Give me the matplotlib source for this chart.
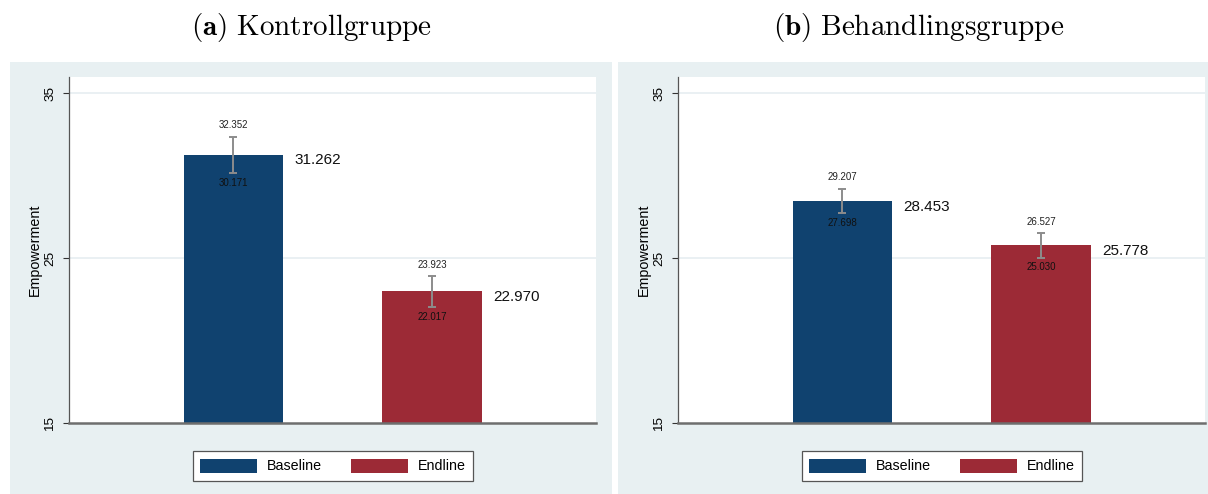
#!/usr/bin/env python3
"""
Empowerment at baseline and endline, control vs. treatment group (Stata-style bars).
"""

import matplotlib
matplotlib.use('Agg')
import matplotlib.pyplot as plt
from matplotlib.patches import Rectangle

plt.rcParams['font.family'] = ['Liberation Sans', 'DejaVu Sans']
plt.rcParams['mathtext.fontset'] = 'cm'

# data
panel_titles = [r'$\mathbf{(a)}\ \mathrm{Kontrollgruppe}$',
                r'$\mathbf{(b)}\ \mathrm{Behandlingsgruppe}$']
series = ['Baseline', 'Endline']
means = [[31.262, 22.970], [28.453, 25.778]]
ci_low = [[30.171, 22.017], [27.698, 25.030]]
ci_high = [[32.352, 23.923], [29.207, 26.527]]
yticks = [15, 25, 35]

W, H = 1208, 494
NAVY = '#10426f'
MAROON = '#9c2a36'
BG = '#e8f0f2'
GRID = '#e6eef1'


def fig_box(x0, y0, x1, y1):
    """Pixel box (top-left origin) -> figure fraction [l, b, w, h]."""
    return [x0 / W, 1 - y1 / H, (x1 - x0) / W, (y1 - y0) / H]


fig = plt.figure(figsize=(W / 100, H / 100), dpi=100)

panels = [
    dict(bg=(10, 62, 612, 494), ax=(69, 77, 596, 423), title_x=311, leg_x=333),
    dict(bg=(618, 62, 1208, 494), ax=(678, 77, 1205, 423), title_x=919, leg_x=942),
]

colors = [NAVY, MAROON]

for k, p in enumerate(panels):
    l, b, w, h = fig_box(*p['bg'])
    fig.patches.append(Rectangle((l, b), w, h, transform=fig.transFigure,
                                 facecolor=BG, edgecolor='none', zorder=-10))
    fig.text(p['title_x'] / W, 1 - 28 / H, panel_titles[k], ha='center', va='center',
             fontsize=21)

    ax = fig.add_axes(fig_box(*p['ax']))
    ax.set_facecolor('white')
    xs = [1, 2]
    handles = []
    for i in range(2):
        bars = ax.bar(xs[i], means[k][i] - 15, bottom=15, width=0.5, color=colors[i],
                      edgecolor='none', zorder=2, label=series[i])
        handles.append(bars)
        lo, hi = ci_low[k][i], ci_high[k][i]
        ax.errorbar(xs[i], means[k][i], yerr=[[means[k][i] - lo], [hi - means[k][i]]],
                    fmt='none', ecolor='#8c8c8c', elinewidth=1.4, capsize=3,
                    capthick=1.4, zorder=3)
        ax.annotate(f'{hi:.3f}', (xs[i], hi), xytext=(0, 4.5), textcoords='offset points',
                    ha='center', va='bottom', fontsize=7, color='#222222')
        ax.annotate(f'{lo:.3f}', (xs[i], lo), xytext=(0, -3.5), textcoords='offset points',
                    ha='center', va='top', fontsize=7, color='#111111', zorder=4)
        ax.annotate(f'{means[k][i]:.3f}', (xs[i] + 0.25, means[k][i]), xytext=(8, -4),
                    textcoords='offset points', ha='left', va='center', fontsize=11,
                    color='#111111')

    ax.set_xlim(0.173, 2.824)
    ax.set_ylim(15, 35.97)
    ax.set_yticks(yticks)
    ax.set_yticklabels([str(t) for t in yticks], rotation=90, va='center', fontsize=9.7)
    ax.set_xticks([])
    ax.tick_params(axis='y', length=4.5, width=0.8, color='#333333', pad=4.5)
    for t in yticks[1:]:
        ax.axhline(t, color=GRID, lw=1.2, zorder=1)
    ax.set_ylabel('Empowerment', fontsize=10.3, labelpad=2)
    ax.spines['top'].set_visible(False)
    ax.spines['right'].set_visible(False)
    ax.spines['left'].set_color('#555555')
    ax.spines['left'].set_linewidth(0.9)
    ax.spines['bottom'].set_color('#6e6e6e')
    ax.spines['bottom'].set_linewidth(1.8)

    leg = fig.legend(handles=handles, labels=series, loc='center', ncol=2,
                     bbox_to_anchor=(p['leg_x'] / W, 1 - 466 / H),
                     fontsize=10.3, frameon=True, fancybox=False, edgecolor='#555555',
                     facecolor='white', framealpha=1,
                     handlelength=4.0, handleheight=1.15, columnspacing=2.0,
                     handletextpad=0.7, borderpad=0.5, borderaxespad=0)
    leg.get_frame().set_linewidth(0.9)

fig.savefig('out.png', dpi=100)
